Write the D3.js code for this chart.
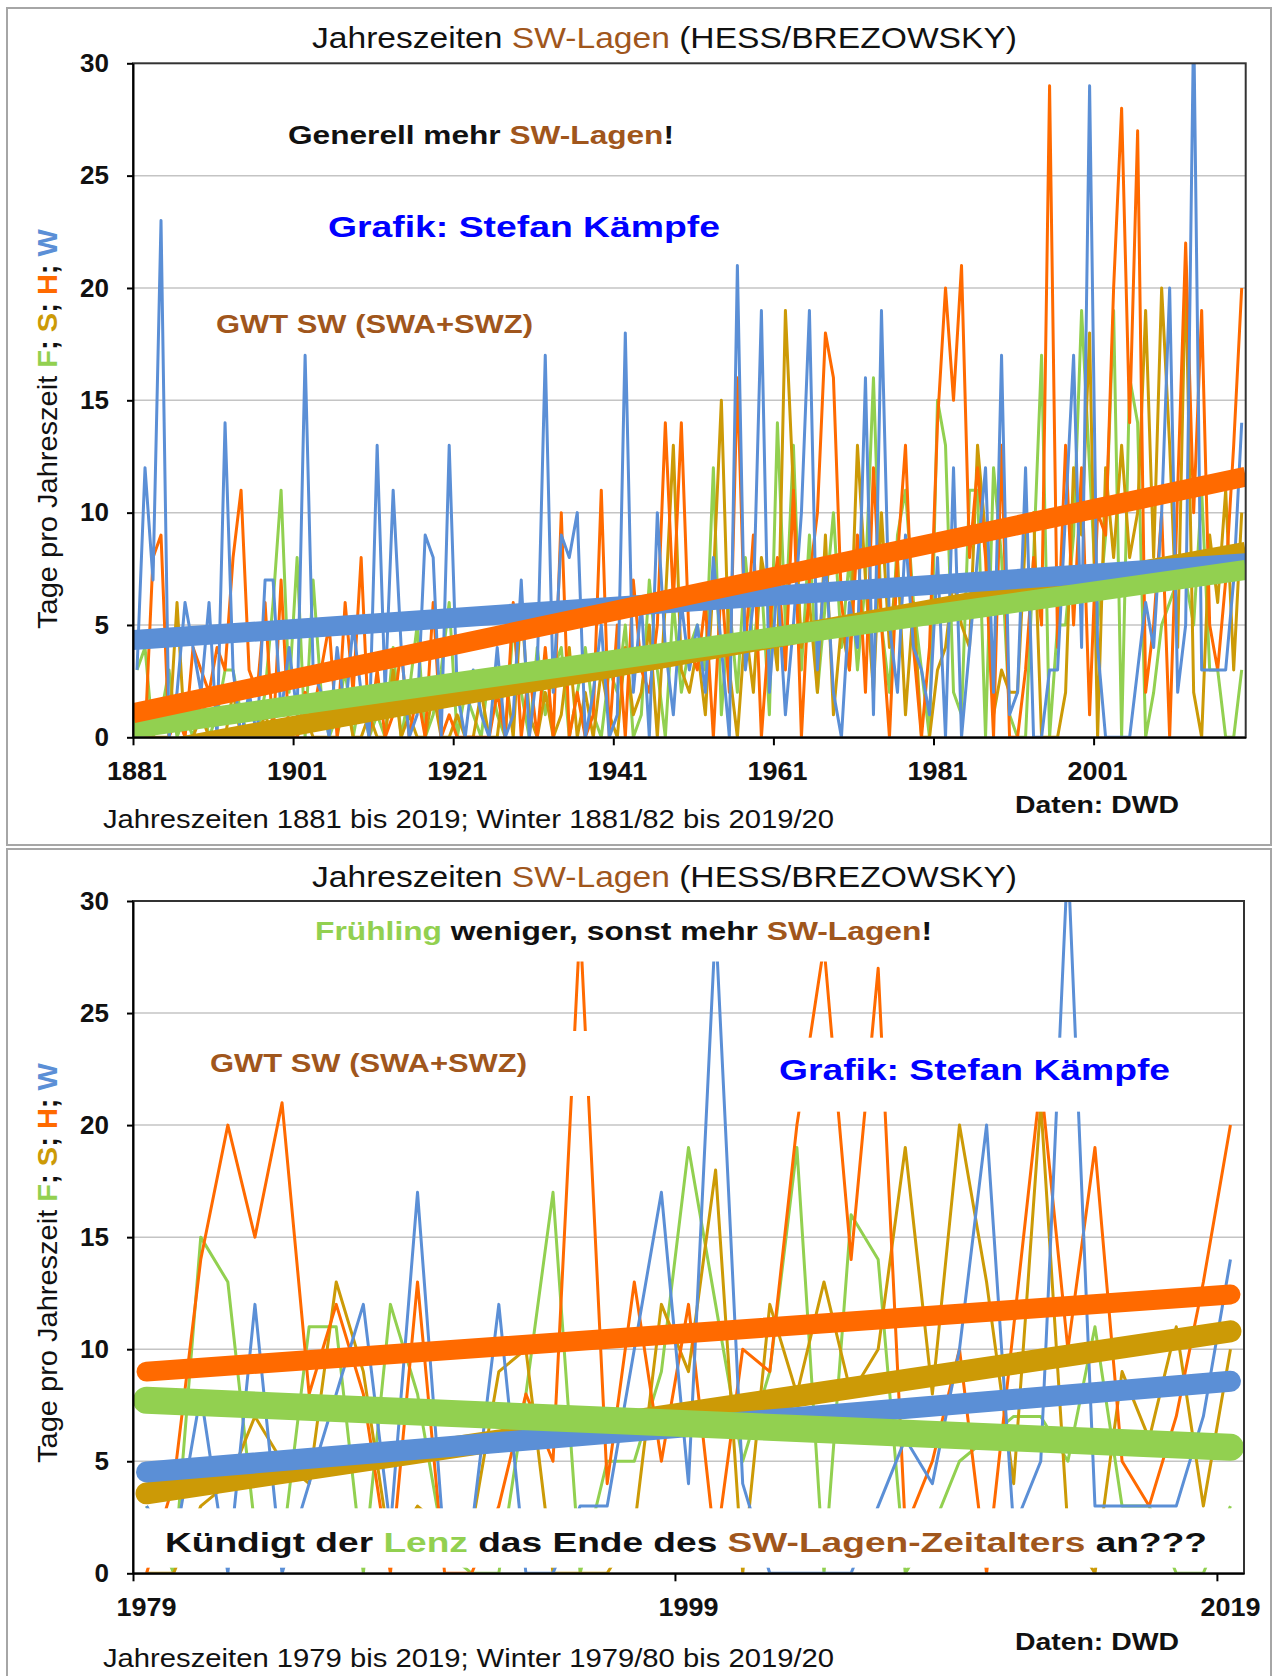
<!DOCTYPE html>
<meta charset="UTF-8">
<script src="https://d3js.org/d3.v7.min.js"></script>
<style>
  body { margin: 0; background: #fff; }
  text { font-family: "Liberation Sans", Arial, sans-serif; white-space: pre; }
</style>
<svg id="chart" width="1285" height="1676"></svg>
<script>

// SW-Lagen (days per season), Frühling / Sommer / Herbst / Winter, 1881..2019
var firstYear = 1881;
var fruehling = [
  3, 4, 0, 1, 3, 0, 1, 0, 2, 0,      // 1881
  1, 3, 3, 1, 0, 0, 2, 6, 11, 2,     // 1891
  8, 0, 7, 2, 0, 1, 3, 0, 2, 0,      // 1901
  1, 0, 4, 0, 2, 5, 0, 1, 3, 6,      // 1911
  0, 2, 1, 0, 3, 1, 0, 5, 2, 0,      // 1921
  4, 1, 3, 4, 0, 2, 4, 1, 0, 3,      // 1931
  2, 5, 0, 1, 7, 3, 0, 6, 2, 4,      // 1941
  5, 3, 12, 1, 6, 2, 8, 4, 7, 1,     // 1951
  14, 5, 13, 3, 9, 2, 6, 10, 4, 8,   // 1961
  3, 7, 16, 5, 2, 9, 11, 6,          // 1971
  3, 0, 15, 13, 2, 1, 11, 11, 0, 12, // 1979
  8, 1, 0, 0, 8, 17, 0, 5, 5, 9,
  19, 12, 5, 9, 19, 0, 16, 14, 0, 2,
  5, 6, 7, 7, 5, 11, 3, 3, 0, 0,
  3
];
var sommer = [
  0, 0, 0, 0, 0, 6, 0, 0, 1, 0,
  0, 0, 2, 0, 0, 0, 1, 0, 0, 0,
  0, 1, 0, 0, 0, 0, 2, 0, 0, 1,
  0, 0, 3, 0, 1, 0, 0, 2, 0, 0,
  1, 0, 0, 2, 0, 0, 3, 0, 6, 1,
  0, 2, 0, 1, 4, 0, 2, 0, 3, 1,
  0, 4, 1, 2, 5, 0, 6, 13, 3, 2,
  4, 1, 7, 15, 3, 0, 5, 2, 8, 6,
  3, 19, 11, 4, 6, 2, 9, 1, 5, 3,
  13, 7, 2, 10, 4, 8, 1, 6,
  0, 0, 3, 4, 7, 5, 4, 13, 9, 1,
  3, 2, 2, 9, 10, 0, 0, 0, 2, 12,
  9, 18, 0, 12, 8, 13, 8, 10, 19, 8,
  20, 13, 4, 21, 2, 0, 9, 6, 11, 3,
  10
];
var herbst = [
  0, 0, 8, 9, 0, 1, 0, 4, 3, 2,
  4, 3, 8, 11, 3, 2, 6, 0, 7, 0,
  0, 2, 1, 3, 5, 0, 6, 2, 8, 0,
  3, 0, 1, 4, 0, 2, 0, 6, 0, 1,
  0, 0, 0, 0, 0, 2, 0, 6, 0, 3,
  0, 4, 0, 10, 0, 2, 0, 1, 11, 0,
  5, 0, 7, 3, 2, 5, 14, 6, 14, 4,
  3, 6, 0, 7, 2, 16, 4, 9, 0, 5,
  8, 3, 11, 0, 7, 10, 18, 16, 6, 3,
  9, 2, 12, 5, 0, 8, 13, 4,
  0, 4, 14, 20, 15, 21, 8, 12, 8, 0,
  13, 0, 0, 3, 8, 5, 29, 4, 13, 5,
  12, 1, 10, 9, 20, 28, 14, 27, 2, 5,
  10, 0, 11, 22, 10, 19, 5, 3, 7, 13,
  20
];
var winter = [
  3, 12, 7, 23, 0, 2, 6, 4, 2, 6,
  0, 14, 3, 0, 2, 0, 7, 7, 1, 4,
  1, 17, 3, 2, 0, 4, 1, 5, 2, 0,
  13, 2, 11, 4, 0, 1, 9, 8, 0, 13,
  2, 0, 3, 1, 0, 4, 0, 1, 7, 0,
  3, 17, 2, 9, 8, 10, 0, 2, 5, 0,
  1, 18, 2, 6, 0, 10, 4, 1, 6, 3,
  5, 2, 8, 4, 0, 21, 3, 6, 19, 2,
  7, 1, 5, 10, 19, 3, 8, 2, 0, 6,
  4, 16, 1, 19, 5, 2, 9, 4,
  3, 1, 8, 0, 12, 0, 4, 8, 12, 2,
  17, 1, 2, 12, 0, 0, 3, 3, 10, 17,
  4, 29, 4, 0, 0, 0, 0, 3, 6, 4,
  10, 20, 2, 5, 32, 3, 3, 3, 3, 7,
  14
];

// linear trends (F, S, H, W)
var trendTopStart = [0.4, -0.8, 1.07, 4.33];    // at 1881
var trendTopEnd   = [7.45, 8.26, 11.6, 7.75];   // at 2020
var trendBotStart = [7.72, 3.57, 9.0, 4.52];    // at 1979/80
var trendBotEnd   = [5.62, 10.8, 12.44, 8.57];  // at 2019/20

var yTicks = [0, 5, 10, 15, 20, 25, 30];
var xTicksTop = [1881, 1901, 1921, 1941, 1961, 1981, 2001];
var xTicksBottom = [1979, 1999, 2019];

var seasonColor = ["#92d050", "#cc9a06", "#ff6a00", "#5b8fd6"]; // F, S, H, W
var brown = "#a0561c";

var svg = d3.select("#chart");

// text with coloured parts, squeezed/stretched to the width seen in the picture
function addText(g, x, y, parts, size, weight, width, anchor) {
  var t = g.append("text")
    .attr("x", x).attr("y", y)
    .attr("text-anchor", anchor || "start")
    .style("font-size", size + "px")
    .style("font-weight", weight);
  parts.forEach(function(p) {
    t.append("tspan").attr("fill", p[1]).text(p[0]);
  });
  if (width) t.attr("textLength", width).attr("lengthAdjust", "spacingAndGlyphs");
  return t;
}

function panel(opt) {
  var g = svg.append("g");
  var x = d3.scaleLinear().domain([opt.first, opt.last + 1]).range([133, opt.right]);
  var y = d3.scaleLinear().domain([0, 30]).range([opt.y0, opt.y30]);
  var x0 = x.range()[0], x1 = x.range()[1];

  // frame round the whole panel
  g.append("rect")
    .attr("x", 7).attr("y", opt.frameY)
    .attr("width", 1264).attr("height", opt.frameH)
    .attr("fill", "none").attr("stroke", "#a6a6a6").attr("stroke-width", 2);

  svg.append("clipPath").attr("id", "clip" + opt.id)
    .append("rect")
    .attr("x", x0).attr("y", y(30))
    .attr("width", x1 - x0).attr("height", y(0) - y(30));

  // gridlines
  g.append("g").selectAll("line")
    .data(yTicks.slice(1, -1))
    .join("line")
      .attr("x1", x0).attr("x2", x1)
      .attr("y1", function(d) { return y(d); })
      .attr("y2", function(d) { return y(d); })
      .attr("stroke", "#c4c4c4").attr("stroke-width", 1.5);

  var plot = g.append("g").attr("clip-path", "url(#clip" + opt.id + ")");

  // season lines
  var line = d3.line()
    .x(function(d, i) { return x(opt.first + i + 0.5); })
    .y(function(d) { return y(d); });
  opt.series.forEach(function(s, j) {
    plot.append("path")
      .attr("d", line(s))
      .attr("fill", "none")
      .attr("stroke", seasonColor[j])
      .attr("stroke-width", 3)
      .attr("stroke-linejoin", "round");
  });

  // white boxes behind the labels (they hide the lines): [year0, year1, v0, v1]
  (opt.masks || []).forEach(function(m) {
    plot.append("rect")
      .attr("x", x(m[0])).attr("width", x(m[1]) - x(m[0]))
      .attr("y", y(m[3])).attr("height", y(m[2]) - y(m[3]))
      .attr("fill", "#fff");
  });

  // trends: S, W, F, H
  [1, 3, 0, 2].forEach(function(j) {
    plot.append("line")
      .attr("x1", x(opt.trendX[0])).attr("x2", x(opt.trendX[1]))
      .attr("y1", y(opt.trendStart[j])).attr("y2", y(opt.trendEnd[j]))
      .attr("stroke", seasonColor[j])
      .attr("stroke-width", opt.trendWidth[j])
      .attr("stroke-linecap", opt.cap);
  });

  // plot border
  g.append("rect")
    .attr("x", x0).attr("y", y(30))
    .attr("width", x1 - x0).attr("height", y(0) - y(30))
    .attr("fill", "none").attr("stroke", "#333").attr("stroke-width", 2);

  // y axis
  var ya = g.append("g")
    .attr("transform", "translate(" + x0 + ",0)")
    .call(d3.axisLeft(y).tickValues(yTicks).tickSize(6).tickSizeOuter(0).tickPadding(18).tickFormat(d3.format("d")));
  ya.select(".domain").attr("stroke", "#000").attr("stroke-width", 2);
  ya.selectAll(".tick line").attr("stroke", "#000").attr("stroke-width", 2);
  ya.selectAll(".tick text")
    .attr("fill", "#111")
    .style("font-family", "'Liberation Sans', Arial, sans-serif")
    .style("font-size", "26px").style("font-weight", "bold");

  // x axis
  var xa = g.append("g")
    .attr("transform", "translate(0," + y(0) + ")")
    .call(d3.axisBottom(x).tickValues(opt.xTicks).tickSize(8).tickSizeOuter(0).tickFormat(""));
  xa.select(".domain").attr("stroke", "#000").attr("stroke-width", 2);
  xa.selectAll(".tick line").attr("stroke", "#000").attr("stroke-width", 2);

  g.append("g").selectAll("text")
    .data(opt.xTicks)
    .join("text")
      .attr("x", function(d) { return x(d + 0.5); })
      .attr("y", y(0) + 43)
      .attr("text-anchor", "middle")
      .attr("fill", "#111")
      .attr("textLength", 60).attr("lengthAdjust", "spacingAndGlyphs")
      .style("font-size", "26px").style("font-weight", "bold")
      .text(function(d) { return d; });

  // y axis title
  var yt = addText(g, 0, 0, [
      ["Tage pro Jahreszeit ", "#111"], ["F", seasonColor[0]], ["; ", "#111"],
      ["S", seasonColor[1]], ["; ", "#111"], ["H", seasonColor[2]], ["; ", "#111"],
      ["W", seasonColor[3]]
    ], 28, "normal", 400, "middle");
  yt.attr("transform", "translate(57," + opt.yTitleY + ") rotate(-90)");
  yt.selectAll("tspan").filter(function(d, i) { return i > 0; }).style("font-weight", "bold");

  // title
  addText(g, 312, opt.titleY, [
      ["Jahreszeiten ", "#111"], ["SW-Lagen", brown], [" (HESS/BREZOWSKY)", "#111"]
    ], 30, "normal", 705);

  // footer
  addText(g, 103, opt.subY, [[opt.subText, "#111"]], 25.5, "normal", 731);
  addText(g, 1015, opt.datenY, [["Daten: DWD", "#111"]], 23, "bold", 164);

  return g;
}

// top panel: 1881-2019
var topPanel = panel({
  id: "top", first: firstYear, last: 2019, right: 1245.7,
  y0: 737.3, y30: 63.3, frameY: 8, frameH: 837,
  series: [fruehling, sommer, herbst, winter],
  xTicks: xTicksTop,
  trendX: [1881, 2020], trendStart: trendTopStart, trendEnd: trendTopEnd,
  trendWidth: [20, 20, 20, 20], cap: "butt",
  titleY: 48, subY: 828, datenY: 813, yTitleY: 429,
  subText: "Jahreszeiten 1881 bis 2019; Winter 1881/82 bis 2019/20"
});
addText(topPanel, 288, 144, [["Generell mehr ", "#111"], ["SW-Lagen", brown], ["!", "#111"]], 26, "bold", 386);
addText(topPanel, 328, 237, [["Grafik: Stefan Kämpfe", "#0000ff"]], 30, "bold", 392);
addText(topPanel, 216, 333, [["GWT SW (SWA+SWZ)", brown]], 25, "bold", 317);

// bottom panel: 1979-2019
var k = 1979 - firstYear;
var bottomPanel = panel({
  id: "bottom", first: 1979, last: 2019, right: 1244,
  y0: 1573.3, y30: 901, frameY: 849, frameH: 840,
  series: [fruehling.slice(k), sommer.slice(k), herbst.slice(k), winter.slice(k)],
  xTicks: xTicksBottom,
  masks: [
    [1985.9, 2009.9, 27.3, 30.5],  // box of the headline
    [1981.1, 1995.9, 21.3, 24.2],  // box of "GWT SW"
    [2001.5, 2020, 20.6, 23.9],    // box of "Grafik"
    [1979.1, 2020, 0.25, 2.9]      // box of the question
  ],
  trendX: [1979.5, 2019.5], trendStart: trendBotStart, trendEnd: trendBotEnd,
  trendWidth: [27, 22, 20, 21], cap: "round",
  titleY: 887, subY: 1667, datenY: 1650, yTitleY: 1263,
  subText: "Jahreszeiten 1979 bis 2019; Winter 1979/80 bis 2019/20"
});
addText(bottomPanel, 315, 940, [["Frühling", seasonColor[0]], [" weniger, sonst mehr ", "#111"], ["SW-Lagen", brown], ["!", "#111"]], 26, "bold", 617);
addText(bottomPanel, 210, 1072, [["GWT SW (SWA+SWZ)", brown]], 25, "bold", 317);
addText(bottomPanel, 779, 1080, [["Grafik: Stefan Kämpfe", "#0000ff"]], 30, "bold", 391);
addText(bottomPanel, 165, 1552, [
    ["Kündigt der ", "#111"], ["Lenz", seasonColor[0]], [" das Ende des ", "#111"],
    ["SW-Lagen-Zeitalters", brown], [" an???", "#111"]
  ], 28, "bold", 1042);

</script>
